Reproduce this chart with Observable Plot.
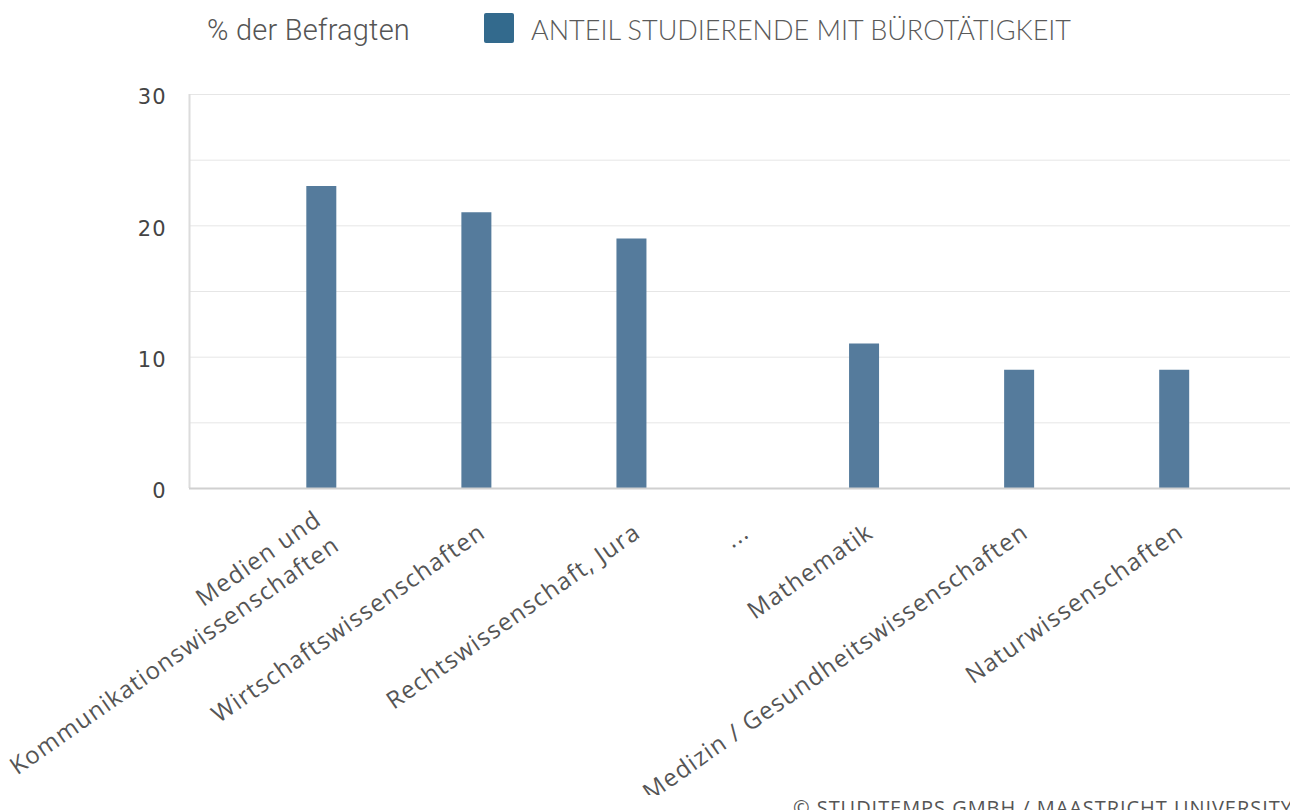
<!DOCTYPE html>
<html>
<head>
<meta charset="utf-8">
<script src="https://cdn.jsdelivr.net/npm/d3@7"></script>
<script src="https://cdn.jsdelivr.net/npm/@observablehq/plot@0.6"></script>
<style>
  html, body { margin: 0; padding: 0; background: #fff; }
  body { width: 1290px; height: 810px; overflow: hidden; position: relative; font-family: "Open Sans", sans-serif; }
  #legend { position: relative; height: 60px; }
  #unit { position: absolute; left: 207px; top: 11px; font-family: Roboto, sans-serif; font-weight: 300; font-size: 29px; letter-spacing: 0.2px; line-height: 38px; color: #555; }
  #swatch { position: absolute; left: 484px; top: 13px; width: 30px; height: 30px; border-radius: 2px; background: #336a8d; }
  #series { position: absolute; left: 531px; top: 11px; font-family: Lato, sans-serif; font-weight: 300; font-size: 27px; line-height: 38px; color: #5a5a5a; }
  #chart { position: relative; height: 735px; }
  #caption { position: absolute; left: 793px; top: 798px; font-family: "Open Sans", sans-serif; font-size: 20px; line-height: 20px; letter-spacing: 0.95px; color: #555; white-space: nowrap; }
  #chart svg [aria-label="x-axis tick label"] { letter-spacing: 1.2px; }
  #chart svg [aria-label="y-axis tick label"] { font-family: "DejaVu Sans", sans-serif; letter-spacing: 1px; }
</style>
</head>
<body>
<div id="legend">
  <span id="unit">% der Befragten</span>
  <span id="swatch"></span>
  <span id="series">ANTEIL STUDIERENDE MIT BÜROTÄTIGKEIT</span>
</div>
<div id="chart"></div>
<div id="caption">© STUDITEMPS GMBH / MAASTRICHT UNIVERSITY</div>
<script>
// --- data ---
const categories = [
  "Medien und\nKommunikationswissenschaften",
  "Wirtschaftswissenschaften",
  "Rechtswissenschaft, Jura",
  "...",
  "Mathematik",
  "Medizin / Gesundheitswissenschaften",
  "Naturwissenschaften"
];
const slots = [0, 1, 2, 2.7, 3.5, 4.5, 5.5];
const values = [23, 21, 19, null, 11, 9, 9];
const yTicks = [0, 10, 20, 30];
const yDomain = [0, 30];
const xDomain = [-0.85, 6.25];

const rows = categories.map((c, i) => ({category: c, slot: slots[i], value: values[i]}));
const labelOf = new Map(rows.map(d => [d.slot, d.category]));

const chart = Plot.plot({
  width: 1290,
  height: 735,
  marginLeft: 189,
  marginRight: 0,
  marginTop: 34,
  marginBottom: 307,
  style: {fontFamily: "'Open Sans', sans-serif", fontSize: "20px", color: "#555", background: "transparent"},
  x: {type: "linear", domain: xDomain, label: null},
  y: {domain: yDomain, label: null},
  marks: [
    Plot.gridY({ticks: 6, stroke: "#e6e6e6", strokeOpacity: 1, strokeWidth: 1}),
    Plot.ruleX([xDomain[0]], {stroke: "#dcdcdc", strokeWidth: 2}),
    Plot.ruleX(rows.filter(d => d.value != null), {x: "slot", y1: 0, y2: "value", stroke: "#557b9c", strokeWidth: 30}),
    Plot.ruleY([0], {stroke: "#d0d0d0", strokeWidth: 2}),
    Plot.axisY({ticks: yTicks, tickSize: 0, tickPadding: 23, fontSize: 21, fill: "#444", dy: 3, label: null}),
    Plot.axisX({ticks: slots, tickFormat: d => labelOf.get(d), tickRotate: -35, tickSize: 0, fontSize: 24, lineHeight: 1.3, fill: "#555", dx: 5, dy: 27, label: null})
  ]
});
document.getElementById("chart").appendChild(chart);
</script>
</body>
</html>
